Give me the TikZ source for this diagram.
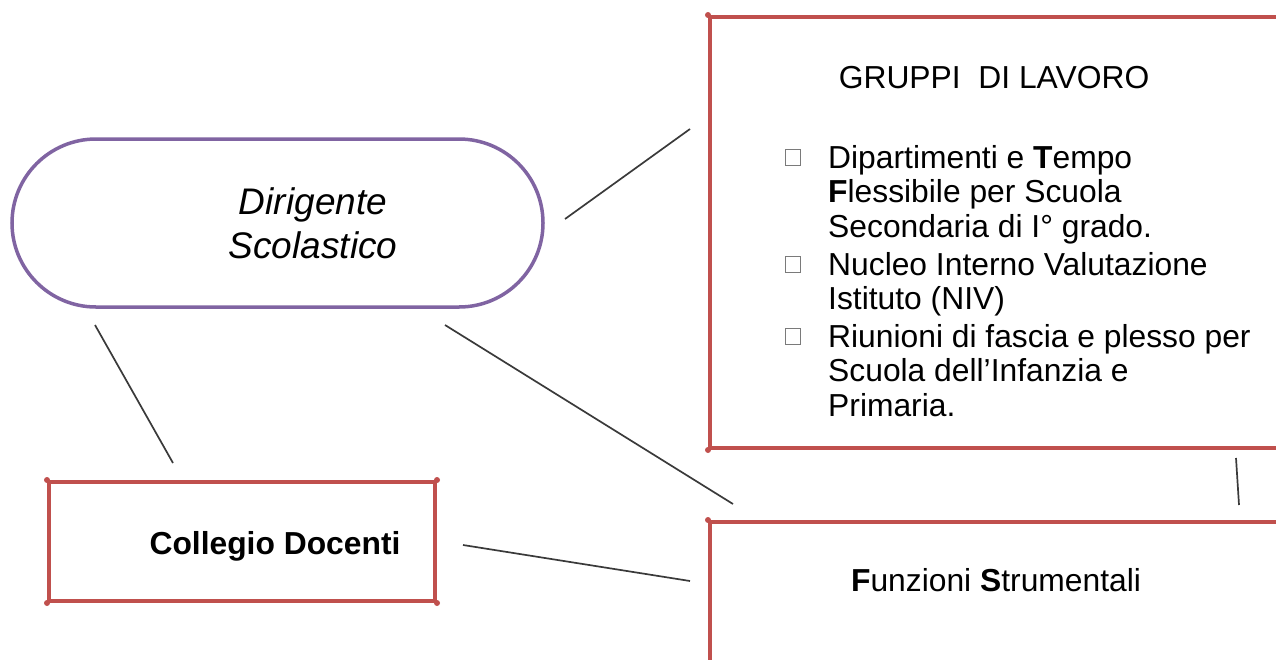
\documentclass[tikz,border=0pt]{standalone}
\usepackage{fontspec}
\setmainfont{Liberation Sans}
\usetikzlibrary{shapes.misc}
\definecolor{boxred}{HTML}{C0504D}
\definecolor{leadpurple}{HTML}{8064A2}
\definecolor{linkgray}{HTML}{3A3A3A}
\definecolor{bulletgray}{HTML}{7A7A7A}
\begin{document}
\begin{tikzpicture}[x=1pt,y=-1pt,
  redbox/.style={draw=boxred, line width=4pt, rectangle, inner sep=0pt},
  leader/.style={draw=leadpurple, line width=3.5pt, rounded rectangle, inner sep=0pt,
    minimum width=531pt, minimum height=168pt},
  cornerdot/.style={fill=boxred, circle, inner sep=0pt, minimum size=6pt},
  bulletbox/.style={draw=bulletgray, line width=0.9pt, rectangle, inner sep=0pt,
    minimum width=15pt, minimum height=16pt},
  itemtext/.style={anchor=north west, inner sep=0pt, align=left,
    font=\fontsize{31.8}{34.5}\selectfont},
  link/.style={draw=linkgray, line width=1.7pt}
]
\useasboundingbox (0,0) rectangle (1276,659);
\clip (0,0) rectangle (1276,659);

% main shapes
\node[leader] (dir) at (277.5,223) {};
\node[redbox, minimum width=620pt, minimum height=431pt, anchor=north west] (gruppi) at (708,15) {};
\node[redbox, minimum width=620pt, minimum height=220pt, anchor=north west] (funz) at (708,520) {};
\node[redbox, minimum width=386pt, minimum height=119pt, anchor=north west] (coll) at (47,480) {};

% corner dots of the red frames
\node[cornerdot] (g1) at (gruppi.north west) {};
\node[cornerdot] (g2) at (gruppi.south west) {};
\node[cornerdot] (f1) at (funz.north west) {};
\node[cornerdot] (c1) at (coll.north west) {};
\node[cornerdot] (c2) at (coll.north east) {};
\node[cornerdot] (c3) at (coll.south west) {};
\node[cornerdot] (c4) at (coll.south east) {};

% labels
\node[anchor=north, align=center, inner sep=0pt,
      font=\fontsize{37}{44}\selectfont\itshape] (dirtext) at (313,187) {Dirigente\\Scolastico};
\node[inner sep=0pt, font=\fontsize{31.8}{36}\selectfont] (gtitle) at (994,78) {GRUPPI\ \ DI LAVORO};
\node[anchor=base, inner sep=0pt, font=\fontsize{31.8}{36}\selectfont\bfseries] (ctext) at (275,554) {Collegio Docenti};
\node[inner sep=0pt, font=\fontsize{31.8}{36}\selectfont] (ftext) at (996,580) {\textbf{F}unzioni \textbf{S}trumentali};

% list of working groups
\node[bulletbox] (b1) at (793,157) {};
\node[bulletbox] (b2) at (793,264) {};
\node[bulletbox] (b3) at (793,336) {};
\node[itemtext] (i1) at (828,145) {Dipartimenti e \textbf{T}empo\\\textbf{F}lessibile per Scuola\\Secondaria di I° grado.};
\node[itemtext] (i2) at (828,252) {Nucleo Interno Valutazione\\Istituto (NIV)};
\node[itemtext] (i3) at (828,324) {Riunioni di fascia e plesso per\\Scuola dell’Infanzia e\\Primaria.};

% connector ends
\coordinate (dg) at (565,219);
\coordinate (gd) at (690,129);
\coordinate (dc) at (95,325);
\coordinate (cd) at (173,463);
\coordinate (df) at (445,325);
\coordinate (fd) at (733,504);
\coordinate (cf) at (463,545);
\coordinate (fc) at (690,581);
\coordinate (gf) at (1236,458);
\coordinate (fg) at (1239,505);

% connectors
\draw[link] (dg) -- (gd);
\draw[link] (dc) -- (cd);
\draw[link] (df) -- (fd);
\draw[link] (cf) -- (fc);
\draw[link] (gf) -- (fg);
\end{tikzpicture}
\end{document}
